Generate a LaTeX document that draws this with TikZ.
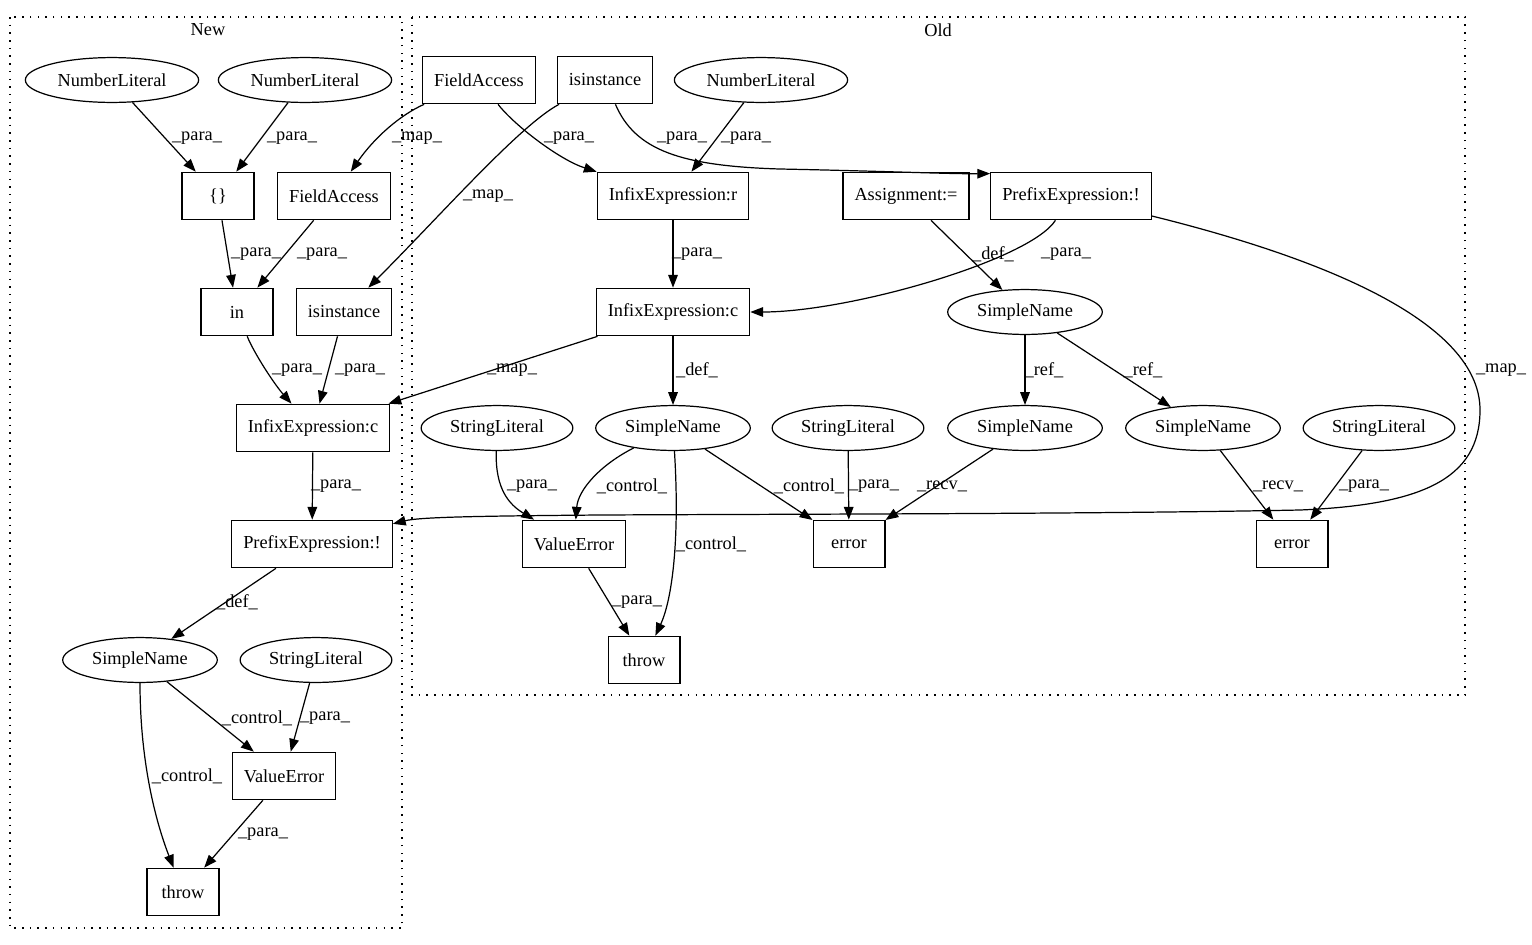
\documentclass[tikz,border=0pt]{standalone}
\usepackage{fontspec}
\setmainfont{Liberation Serif}
\usetikzlibrary{arrows.meta,shapes.geometric}
\tikzset{
  stmt/.style={draw, rectangle, line width=0.95pt, minimum height=37pt, minimum width=56pt, inner xsep=9pt},
  expr/.style={draw, ellipse, line width=0.95pt, minimum height=35pt, inner xsep=5.3pt, inner ysep=2pt},
  flow/.style={->, line width=0.95pt},
  lbl/.style={inner sep=0pt},
  cluster/.style={line width=0.95pt, dash pattern=on 1.2pt off 4.8pt}
}
\begin{document}
\begin{tikzpicture}[x=0.78pt, y=-0.78pt, font=\fontsize{14.3pt}{17pt}\selectfont,
    >={Triangle[length=10pt,width=7.5pt]}]
    \useasboundingbox (0,0) rectangle (1532,944);
    % clusters
    \draw[cluster] (10,17) rectangle (402,928);
    \draw[cluster] (412,17) rectangle (1465,695);
    \node (tNew) at (208,30) {New};
    \node (tOld) at (938,30) {Old};

    % New
    \node[expr] (nlA) at (112,80) {NumberLiteral};
    \node[expr] (nlB) at (305,80) {NumberLiteral};
    \node[stmt] (brace) at (218,196) {\{\}};
    \node[stmt] (faNew) at (334,196) {FieldAccess};
    \node[stmt] (inNew) at (237,312) {in};
    \node[stmt] (isNew) at (344,312) {isinstance};
    \node[stmt] (icNew) at (313,428) {InfixExpression:c};
    \node[stmt] (pfNew) at (312,544) {PrefixExpression:!};
    \node[expr] (snNew) at (140,660) {SimpleName};
    \node[expr] (slNew) at (316,660) {StringLiteral};
    \node[stmt] (veNew) at (284,776) {ValueError};
    \node[stmt] (thNew) at (183,892) {throw};

    % Old
    \node[stmt] (faOld) at (479,80) {FieldAccess};
    \node[stmt] (isOld) at (605,80) {isinstance};
    \node[expr] (nlOld) at (761,80) {NumberLiteral};
    \node[stmt] (irOld) at (673,196) {InfixExpression:r};
    \node[stmt] (asOld) at (906,196) {Assignment:=};
    \node[stmt] (pfOld) at (1071,196) {PrefixExpression:!};
    \node[stmt] (icOld) at (673,312) {InfixExpression:c};
    \node[expr] (snA) at (1025,312) {SimpleName};
    \node[expr] (slA) at (497,428) {StringLiteral};
    \node[expr] (snB) at (673,428) {SimpleName};
    \node[expr] (slB) at (848,428) {StringLiteral};
    \node[expr] (snC) at (1025,428) {SimpleName};
    \node[expr] (snD) at (1203,428) {SimpleName};
    \node[expr] (slC) at (1379,428) {StringLiteral};
    \node[stmt] (veOld) at (574,544) {ValueError};
    \node[stmt] (erA) at (849,544) {error};
    \node[stmt] (erB) at (1292,544) {error};
    \node[stmt] (thOld) at (644,660) {throw};

    % edges, New side
    \draw[flow] (nlA) -- (brace) node[lbl] at (197,138) {\_para\_};
    \draw[flow] (nlB) -- (brace) node[lbl] at (292,138) {\_para\_};
    \draw[flow] (faOld) .. controls (400,115) and (374,138) .. (faNew) node[lbl] at (417,138) {\_map\_};
    \draw[flow] (brace) -- (inNew) node[lbl] at (256,254) {\_para\_};
    \draw[flow] (faNew) -- (inNew) node[lbl] at (322,254) {\_para\_};
    \draw[flow] (isOld) .. controls (520,125) and (440,216) .. (isNew) node[lbl] at (488,196) {\_map\_};
    \draw[flow] (inNew) .. controls (255,355) and (275,385) .. (icNew) node[lbl] at (297,370) {\_para\_};
    \draw[flow] (isNew) -- (icNew) node[lbl] at (360,370) {\_para\_};
    \draw[flow] (icOld) -- (icNew) node[lbl] at (512,370) {\_map\_};
    \draw[flow] (icNew) -- (pfNew) node[lbl] at (336,486) {\_para\_};
    \draw[flow] (pfOld) .. controls (1350,265) and (1480,330) .. (1480,410)
        .. controls (1480,480) and (1420,505) .. (1300,510)
        .. controls (1100,514) and (800,514) .. (600,515)
        .. controls (480,516) and (420,517) .. (pfNew) node[lbl] at (1501,370) {\_map\_};
    \draw[flow] (pfNew) -- (snNew) node[lbl] at (237,602) {\_def\_};
    \draw[flow] (snNew) -- (veNew) node[lbl] at (257,718) {\_control\_};
    \draw[flow] (slNew) -- (veNew) node[lbl] at (325,718) {\_para\_};
    \draw[flow] (snNew) .. controls (140,760) and (155,820) .. (thNew) node[lbl] at (187,776) {\_control\_};
    \draw[flow] (veNew) -- (thNew) node[lbl] at (263,834) {\_para\_};

    % edges, Old side
    \draw[flow] (faOld) .. controls (515,126) and (560,160) .. (irOld) node[lbl] at (569,138) {\_para\_};
    \draw[flow] (isOld) .. controls (635,150) and (680,166) .. (780,169)
        .. controls (880,171) and (950,174) .. ([yshift=-1.5pt]pfOld.north west) node[lbl] at (682,138) {\_para\_};
    \draw[flow] (nlOld) -- (irOld) node[lbl] at (746,138) {\_para\_};
    \draw[flow] (irOld) -- (icOld) node[lbl] at (697,254) {\_para\_};
    \draw[flow] (pfOld) .. controls (1030,260) and (850,312) .. (icOld) node[lbl] at (1066,254) {\_para\_};
    \draw[flow] (asOld) -- (snA) node[lbl] at (993,254) {\_def\_};
    \draw[flow] (icOld) -- (snB) node[lbl] at (697,370) {\_def\_};
    \draw[flow] (snA) -- (snC) node[lbl] at (1044,370) {\_ref\_};
    \draw[flow] (snA) -- (snD) node[lbl] at (1143,370) {\_ref\_};
    \draw[flow] (slA) .. controls (495,490) and (510,505) .. (veOld) node[lbl] at (532,486) {\_para\_};
    \draw[flow] (snB) .. controls (600,465) and (578,490) .. (veOld) node[lbl] at (632,486) {\_control\_};
    \draw[flow] (snB) .. controls (680,540) and (672,600) .. (thOld) node[lbl] at (711,544) {\_control\_};
    \draw[flow] (snB) -- (erA) node[lbl] at (809,486) {\_control\_};
    \draw[flow] (slB) -- (erA) node[lbl] at (874,486) {\_para\_};
    \draw[flow] (snC) -- (erA) node[lbl] at (942,486) {\_recv\_};
    \draw[flow] (snD) -- (erB) node[lbl] at (1278,486) {\_recv\_};
    \draw[flow] (slC) -- (erB) node[lbl] at (1364,486) {\_para\_};
    \draw[flow] (veOld) -- (thOld) node[lbl] at (637,602) {\_para\_};
\end{tikzpicture}
\end{document}
